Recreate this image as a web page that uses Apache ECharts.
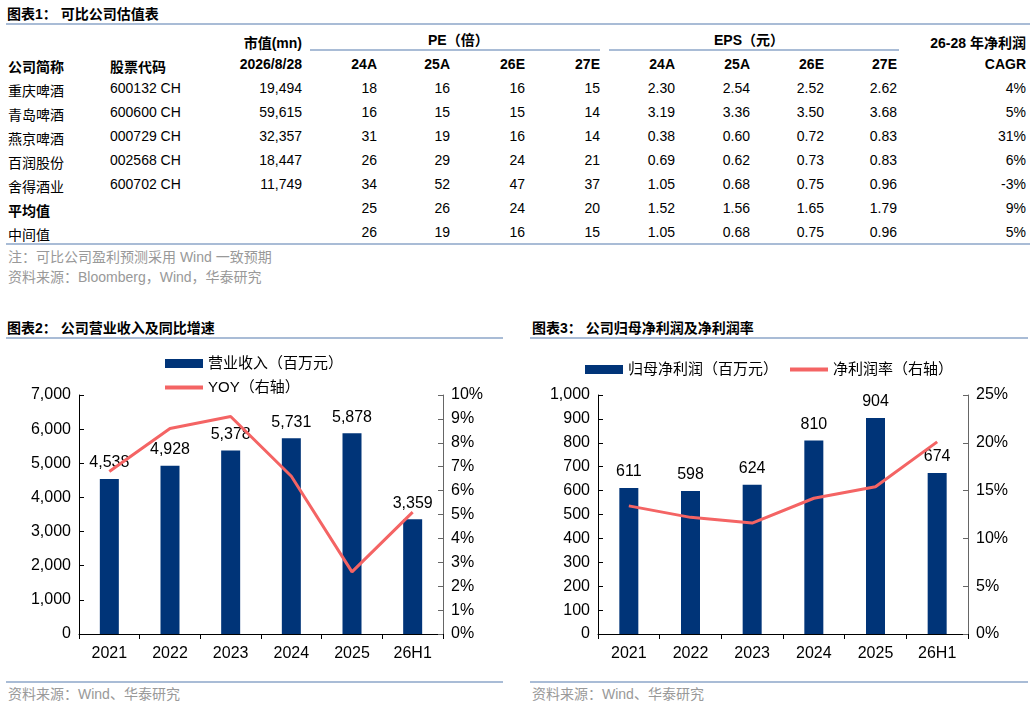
<!DOCTYPE html>
<html><head><meta charset="utf-8">
<script src="https://cdn.jsdelivr.net/npm/echarts@6/dist/echarts.min.js"></script>
<style>
body{margin:0;width:1034px;height:704px;background:#fff;font-family:"Liberation Sans","Noto Sans CJK SC",sans-serif;color:#000;position:relative;overflow:hidden}
.t{position:absolute;white-space:nowrap;font-size:14px}
.b{font-weight:bold}
.hl{position:absolute;height:2px;background:#a9bcd6}
.g{color:#999}
#c2{position:absolute;left:0;top:345px;width:515px;height:335px}
#c3{position:absolute;left:520px;top:345px;width:514px;height:335px}
</style></head><body>
<div id="tbl"></div>
<div id="c2"></div><div id="c3"></div>
<script>
/* ---------- 表1 数据 ---------- */
const names  = ["重庆啤酒","青岛啤酒","燕京啤酒","百润股份","舍得酒业","平均值","中间值"];
const codes  = ["600132 CH","600600 CH","000729 CH","002568 CH","600702 CH","",""];
const mktCap = ["19,494","59,615","32,357","18,447","11,749","",""];
const pe     = [[18,16,16,15],[16,15,15,14],[31,19,16,14],[26,29,24,21],[34,52,47,37],[25,26,24,20],[26,19,16,15]];
const eps    = [["2.30","2.54","2.52","2.62"],["3.19","3.36","3.50","3.68"],["0.38","0.60","0.72","0.83"],
                ["0.69","0.62","0.73","0.83"],["1.05","0.68","0.75","0.96"],["1.52","1.56","1.65","1.79"],["1.05","0.68","0.75","0.96"]];
const cagr   = ["4%","5%","31%","6%","-3%","9%","5%"];
const yearHdr = ["24A","25A","26E","27E"];

/* ---------- 图2/图3 数据 ---------- */
const years   = ["2021","2022","2023","2024","2025","26H1"];
const revenue = [4538,4928,5378,5731,5878,3359];
const revYoy  = [6.8,8.6,9.1,6.6,2.6,5.1];
const profit  = [611,598,624,810,904,674];
const margin  = [13.4,12.2,11.6,14.2,15.4,20.1];

/* ---------- 表格 ---------- */
const box = document.getElementById("tbl");
const put = (txt, x, y, cls = "", right = false) => {
  const d = document.createElement("div");
  d.className = "t " + cls;
  d.textContent = txt;
  d.style.top = (y - 9) + "px";
  if (right) d.style.right = (1034 - x) + "px"; else d.style.left = x + "px";
  box.appendChild(d);
};
const line = (x, y, w) => {
  const d = document.createElement("div");
  d.className = "hl";
  Object.assign(d.style, { left: x + "px", top: y + "px", width: w + "px" });
  box.appendChild(d);
};
put("图表1：  可比公司估值表", 7, 12, "b");
line(6, 23, 1024);
put("市值(mn)", 302, 41, "b", true);
put("PE（倍）", 428, 38, "b");
put("EPS（元）", 714, 38, "b");
put("26-28 年净利润", 1026, 41, "b", true);
line(310, 49, 290); line(609, 49, 290);
put("公司简称", 8, 65, "b"); put("股票代码", 110, 65, "b");
put("2026/8/28", 302, 65, "b", true);
const peX = [377,450,525,600], epsX = [675,750,824,897];
yearHdr.forEach((h, i) => { put(h, peX[i], 65, "b", true); put(h, epsX[i], 65, "b", true); });
put("CAGR", 1026, 65, "b", true);
names.forEach((n, r) => {
  const y = 89 + r * 24;
  put(n, 8, y, r === 5 ? "b" : "");
  put(codes[r], 110, y);
  put(mktCap[r], 302, y, "", true);
  pe[r].forEach((v, i) => put(String(v), peX[i], y, "", true));
  eps[r].forEach((v, i) => put(v, epsX[i], y, "", true));
  put(cagr[r], 1026, y, "", true);
});
line(6, 243, 1024);
put("注：可比公司盈利预测采用 Wind 一致预期", 8, 255, "g");
put("资料来源：Bloomberg，Wind，华泰研究", 8, 275, "g");
put("图表2：  公司营业收入及同比增速", 7, 326, "b");
line(6, 337, 497);
put("图表3：  公司归母净利润及净利润率", 532, 326, "b");
line(530, 337, 498);
line(6, 681, 497); line(530, 681, 498);
put("资料来源：Wind、华泰研究", 8, 692, "g");
put("资料来源：Wind、华泰研究", 532, 692, "g");

/* ---------- 柱线组合图 ---------- */
const BLUE = "#003478", RED = "#f46464";
function combo(el, barName, lineName, bars, lineVals, left, right, leftMax, leftInt, rightMax, rightInt, legendOpt) {
  const c = echarts.init(document.getElementById(el));
  const axLbl = { fontSize: 16, color: "#000", fontFamily: "Liberation Sans" };
  c.setOption({
    animation: false,
    textStyle: { fontFamily: "Liberation Sans, Noto Sans CJK SC" },
    legend: { ...legendOpt, itemWidth: 38, itemHeight: 9, textStyle: { fontSize: 15, color: "#000" },
      data: [{ name: barName, icon: "rect" }, { name: lineName, icon: "path://M0,0H10V1H0Z" }] },
    grid: { left: left, right: right, top: 50, bottom: 46 },
    xAxis: { type: "category", data: years,
      axisLine: { lineStyle: { color: "#000" } },
      axisTick: { show: true, lineStyle: { color: "#000" } },
      axisLabel: { ...axLbl, margin: 12 } },
    yAxis: [
      { type: "value", min: 0, max: leftMax, interval: leftInt, splitLine: { show: false },
        axisLine: { show: true, lineStyle: { color: "#000" } }, axisTick: { show: true, inside: true, lineStyle: { color: "#000" } },
        axisLabel: { ...axLbl, formatter: v => v.toLocaleString("en-US") } },
      { type: "value", min: 0, max: rightMax, interval: rightInt, splitLine: { show: false },
        axisLine: { show: true, lineStyle: { color: "#666" } }, axisTick: { show: true, inside: true, lineStyle: { color: "#666" } },
        axisLabel: { ...axLbl, formatter: "{value}%" } }
    ],
    series: [
      { name: barName, type: "bar", data: bars, barWidth: 19, itemStyle: { color: BLUE },
        label: { show: true, position: "top", distance: 8, fontSize: 16, color: "#000",
          formatter: p => p.value.toLocaleString("en-US") } },
      { name: lineName, type: "line", yAxisIndex: 1, data: lineVals, symbol: "none", z: 5,
        lineStyle: { color: RED, width: 3 }, itemStyle: { color: RED } }
    ]
  });
}
combo("c2", "营业收入（百万元）", "YOY（右轴）", revenue, revYoy, 79, 72, 7000, 1000, 10, 1,
  { orient: "vertical", left: 160, top: 6, itemGap: 9 });
combo("c3", "归母净利润（百万元）", "净利润率（右轴）", profit, margin, 78, 66, 1000, 100, 25, 5,
  { left: 60, top: 12, itemGap: 12 });
</script></body></html>
